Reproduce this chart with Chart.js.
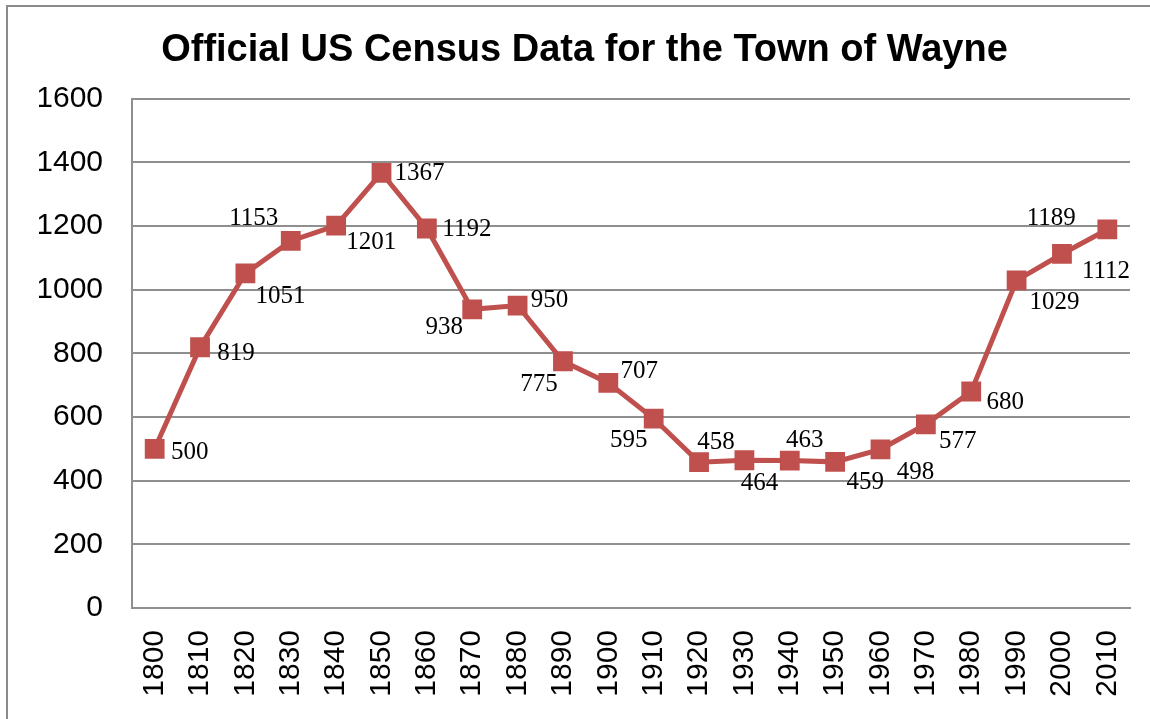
<!DOCTYPE html>
<html>
<head>
<meta charset="utf-8">
<script src="https://cdn.jsdelivr.net/npm/chart.js@4.4.0/dist/chart.umd.min.js"></script>
<style>
  html, body { margin: 0; padding: 0; background: #fff; }
  #wrap { width: 1150px; height: 719px; }
</style>
</head>
<body>
<div id="wrap"><canvas id="chart" width="1150" height="719"></canvas></div>
<script>
// census years and population
const years = ['1800', '1810', '1820', '1830', '1840', '1850', '1860', '1870', '1880', '1890', '1900',
    '1910', '1920', '1930', '1940', '1950', '1960', '1970', '1980', '1990', '2000', '2010'];
const population = [500, 819, 1051, 1153, 1201, 1367, 1192, 938, 950, 775, 707,
    595, 458, 464, 463, 459, 498, 577, 680, 1029, 1112, 1189];
const yTicks = [0, 200, 400, 600, 800, 1000, 1200, 1400, 1600];

// where each value label sits relative to its marker (dx, dy in px)
const labelOffsets = [[35, 4], [36, 6], [35, 23], [-37, -22], [35, 17], [38, 1], [40, 1], [-28, 18],
    [32, -5], [-24, 23], [31, -11], [-25, 22], [17, -20], [15, 23], [15, -20], [30, 21], [35, 23],
    [32, 17], [34, 11], [38, 22], [44, 17], [-56, -11]];

const redLine = '#C0504D';
const gridGrey = '#8f8f8f';

Chart.defaults.font.family = '"Liberation Sans", Arial, sans-serif';
Chart.defaults.color = '#000';

// frame on the left and top edge, like the pasted chart object
const framePlugin = {
    id: 'frame',
    beforeDraw(chart) {
        const ctx = chart.ctx;
        ctx.save();
        ctx.fillStyle = '#fff';
        ctx.fillRect(0, 0, chart.width, chart.height);
        ctx.strokeStyle = '#8a8a8a';
        ctx.lineWidth = 2;
        ctx.beginPath();
        ctx.moveTo(7, chart.height);
        ctx.lineTo(7, 6);
        ctx.lineTo(chart.width, 6);
        ctx.stroke();
        ctx.restore();
    }
};

const valueLabels = {
    id: 'valueLabels',
    afterDatasetsDraw(chart) {
        const ctx = chart.ctx;
        const meta = chart.getDatasetMeta(0);
        ctx.save();
        ctx.font = '25px "Liberation Serif", "Times New Roman", serif';
        ctx.fillStyle = '#000';
        ctx.textAlign = 'center';
        ctx.textBaseline = 'middle';
        meta.data.forEach((pt, i) => {
            const off = labelOffsets[i] || [30, 0];
            ctx.fillText(String(population[i]), pt.x + off[0], pt.y + off[1]);
        });
        ctx.restore();
    }
};

new Chart(document.getElementById('chart'), {
    type: 'line',
    data: {
        labels: years,
        datasets: [{
            data: population,
            borderColor: redLine,
            backgroundColor: redLine,
            borderWidth: 5,
            pointStyle: 'rect',
            pointRadius: 14,
            pointBorderWidth: 0,
            pointBackgroundColor: redLine,
            tension: 0
        }]
    },
    options: {
        responsive: false,
        animation: false,
        layout: { padding: { left: 39, right: 20, top: 0, bottom: 0 } },
        plugins: {
            legend: { display: false },
            tooltip: { enabled: false },
            title: {
                display: true,
                text: 'Official US Census Data for the Town of Wayne',
                font: { size: 38, weight: 'bold' },
                color: '#000',
                padding: { top: 28, bottom: 25 }
            }
        },
        scales: {
            x: {
                offset: true,
                grid: { display: false, drawTicks: false },
                border: { display: true, color: gridGrey, width: 2 },
                ticks: { minRotation: 90, maxRotation: 90, padding: 22, font: { size: 30 }, autoSkip: false },
                afterFit(scale) {
                    scale.height = 111;
                    scale.paddingLeft = 0;
                    scale.paddingRight = 0;
                }
            },
            y: {
                min: 0,
                max: 1600,
                afterBuildTicks(scale) { scale.ticks = yTicks.map(v => ({ value: v })); },
                grid: { color: gridGrey, lineWidth: 2, drawTicks: false },
                border: { display: true, color: gridGrey, width: 2 },
                ticks: { padding: 29, font: { size: 30 }, callback: v => String(v) },
                afterFit(scale) { scale.width = 93; }
            }
        }
    },
    plugins: [framePlugin, valueLabels]
});
</script>
</body>
</html>
